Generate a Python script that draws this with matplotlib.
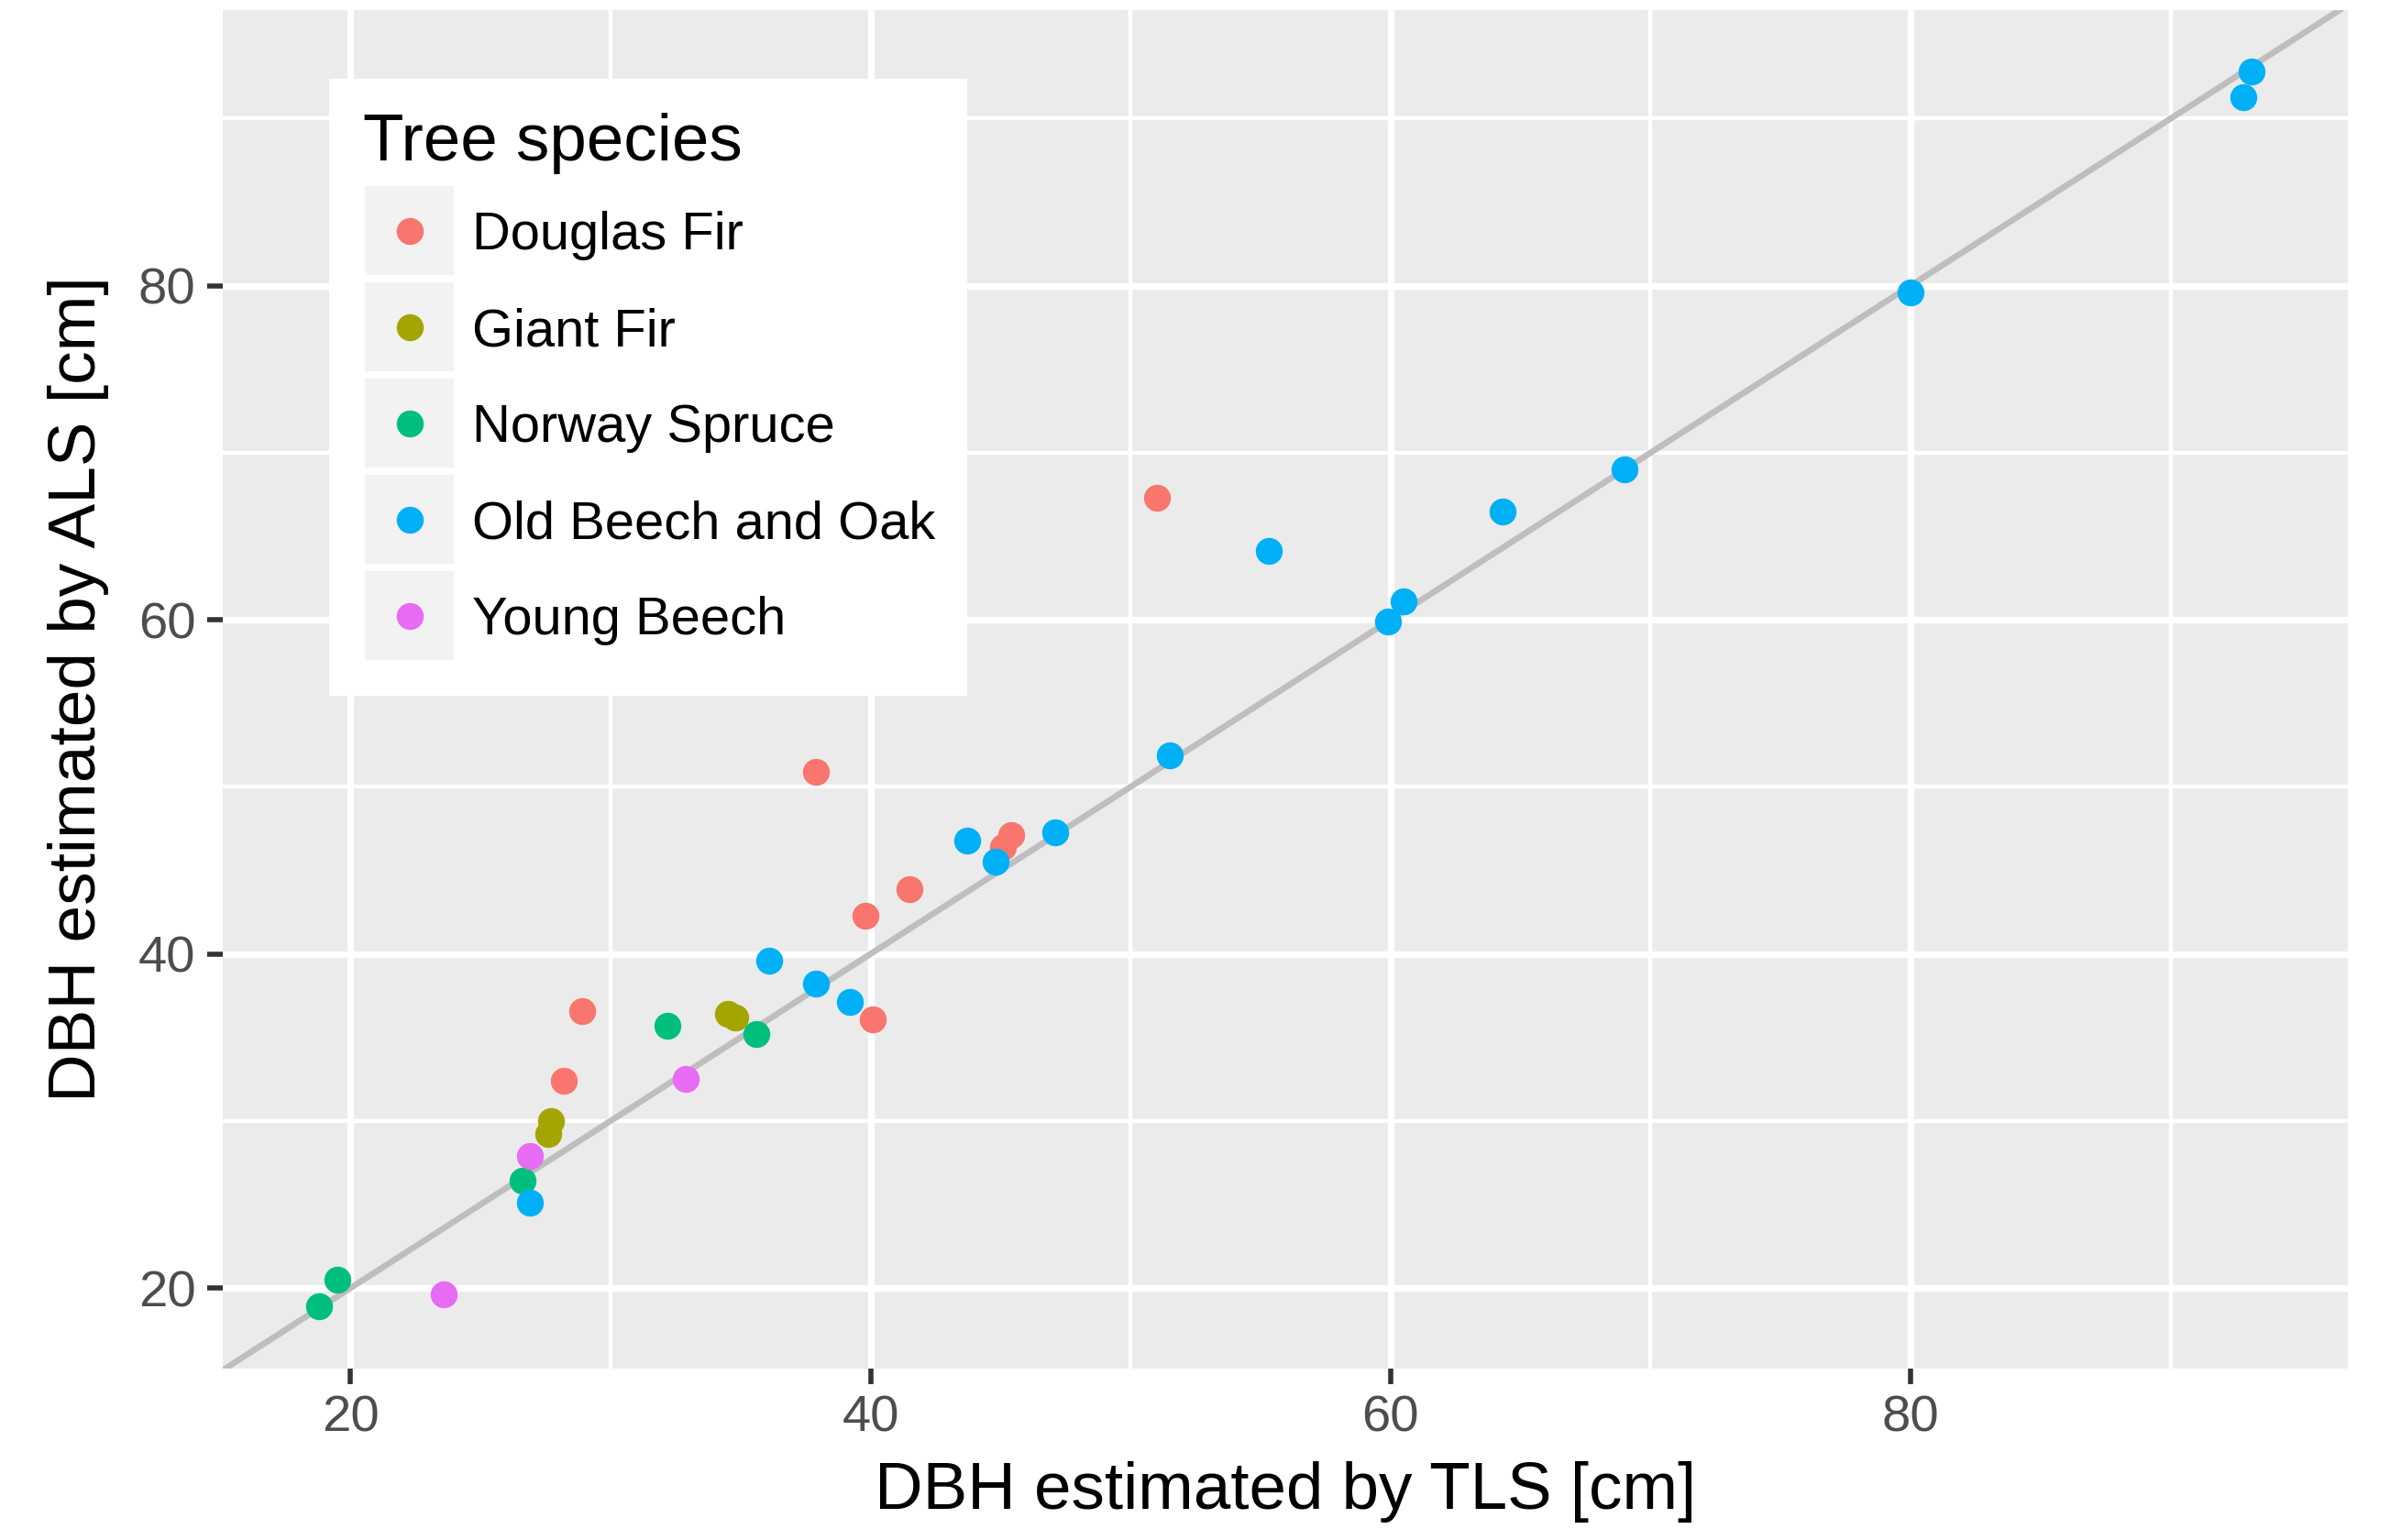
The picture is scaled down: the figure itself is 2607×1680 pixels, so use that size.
import matplotlib
matplotlib.use("Agg")
import matplotlib.pyplot as plt
from matplotlib.patches import Rectangle
from matplotlib.lines import Line2D
import numpy as np

plt.rcParams['font.family'] = ['Liberation Sans', 'DejaVu Sans']

# DBH estimates (cm)
species = ["Douglas Fir", "Giant Fir", "Norway Spruce", "Old Beech and Oak", "Young Beech"]

douglas_tls = [37.9, 41.5, 39.8, 40.1, 28.9, 28.2, 45.4, 45.1, 51.0]
douglas_als = [50.9, 43.9, 42.3, 36.1, 36.6, 32.4, 47.1, 46.4, 67.3]

giant_tls = [34.5, 34.8, 27.7, 27.6]
giant_als = [36.4, 36.2, 30.0, 29.2]

spruce_tls = [35.6, 32.2, 26.6, 19.5, 18.8]
spruce_als = [35.2, 35.7, 26.4, 20.5, 18.9]

oldbeech_tls = [93.1, 92.8, 80.0, 69.0, 64.3, 60.5, 59.9, 55.3, 51.5, 47.1,
                44.8, 43.7, 36.1, 37.9, 39.2, 26.9]
oldbeech_als = [92.8, 91.3, 79.6, 69.0, 66.5, 61.1, 59.9, 64.1, 51.9, 47.3,
                45.5, 46.8, 39.6, 38.2, 37.1, 25.1]

young_tls = [32.9, 26.9, 23.6]
young_als = [32.5, 27.9, 19.6]

tls = [douglas_tls, giant_tls, spruce_tls, oldbeech_tls, young_tls]
als = [douglas_als, giant_als, spruce_als, oldbeech_als, young_als]

colors = ["#F8766D", "#A3A500", "#00BF7D", "#00B0F6", "#E76BF3"]

W, H = 2607, 1680
DPI = 200
fig = plt.figure(figsize=(W / DPI, H / DPI), dpi=DPI)
fig.patch.set_facecolor("white")

def px(x, y):
    return x / W, 1 - y / H

# panel in pixels
left, right, top, bottom = 243, 2561, 11, 1492.5
ax = fig.add_axes([left / W, 1 - bottom / H, (right - left) / W, (bottom - top) / H])
ax.set_facecolor("#EBEBEB")
for s in ax.spines.values():
    s.set_visible(False)

# ggplot-like 5% expansion of data range
all_x = np.concatenate([np.array(v) for v in tls])
all_y = np.concatenate([np.array(v) for v in als])
ex = 0.05 * (all_x.max() - all_x.min())
ey = 0.05 * (all_y.max() - all_y.min())
ax.set_xlim(all_x.min() - ex, all_x.max() + ex)
ax.set_ylim(all_y.min() - ey, all_y.max() + ey)

ax.set_xticks([20, 40, 60, 80])
ax.set_yticks([20, 40, 60, 80])
ax.set_xticks([30, 50, 70, 90], minor=True)
ax.set_yticks([30, 50, 70, 90], minor=True)
ax.grid(which="major", color="white", linewidth=2.6)
ax.grid(which="minor", color="white", linewidth=1.6)
ax.set_axisbelow(True)
ax.tick_params(which="major", length=6.1, width=2.0, color="#333333",
               labelcolor="#4D4D4D", labelsize=20.2, pad=4.5)
ax.tick_params(which="minor", length=0)

ax.axline((0, 0), slope=1, color="#BEBEBE", linewidth=2.4, zorder=2)

for xs, ys, c in zip(tls, als, colors):
    ax.scatter(xs, ys, s=112, color=c, linewidths=0, zorder=3)

ax.set_xlabel("DBH estimated by TLS [cm]", fontsize=26.2, va="baseline")
ax.xaxis.set_label_coords(0.5, -(1646 - bottom) / (bottom - top))
ax.set_ylabel("DBH estimated by ALS [cm]", fontsize=26.3, va="baseline")
ax.yaxis.set_label_coords((104 - left) / (right - left), 0.5)

# legend drawn ggplot-style
fig.patches.append(Rectangle(px(359, 759), 696 / W, 673 / H, transform=fig.transFigure,
                             facecolor="white", edgecolor="none", zorder=5))
fig.text(*px(396, 174.6), "Tree species", fontsize=26.2, va="baseline", ha="left", zorder=6)
for i, (name, c) in enumerate(zip(species, colors)):
    y0 = 203 + i * 105
    fig.patches.append(Rectangle(px(398, y0 + 97), 97 / W, 97 / H, transform=fig.transFigure,
                                 facecolor="#F2F2F2", edgecolor="none", zorder=6))
    fig.lines.append(Line2D([px(446.5, 0)[0]], [px(0, y0 + 48.5)[1]], transform=fig.transFigure,
                            marker="o", markersize=10.6, markeredgewidth=0,
                            color=c, linestyle="none", zorder=7))
    fig.text(*px(515, y0 + 69), name, fontsize=20.85, va="baseline", ha="left", zorder=7)

fig.savefig("out.png", dpi=DPI)
